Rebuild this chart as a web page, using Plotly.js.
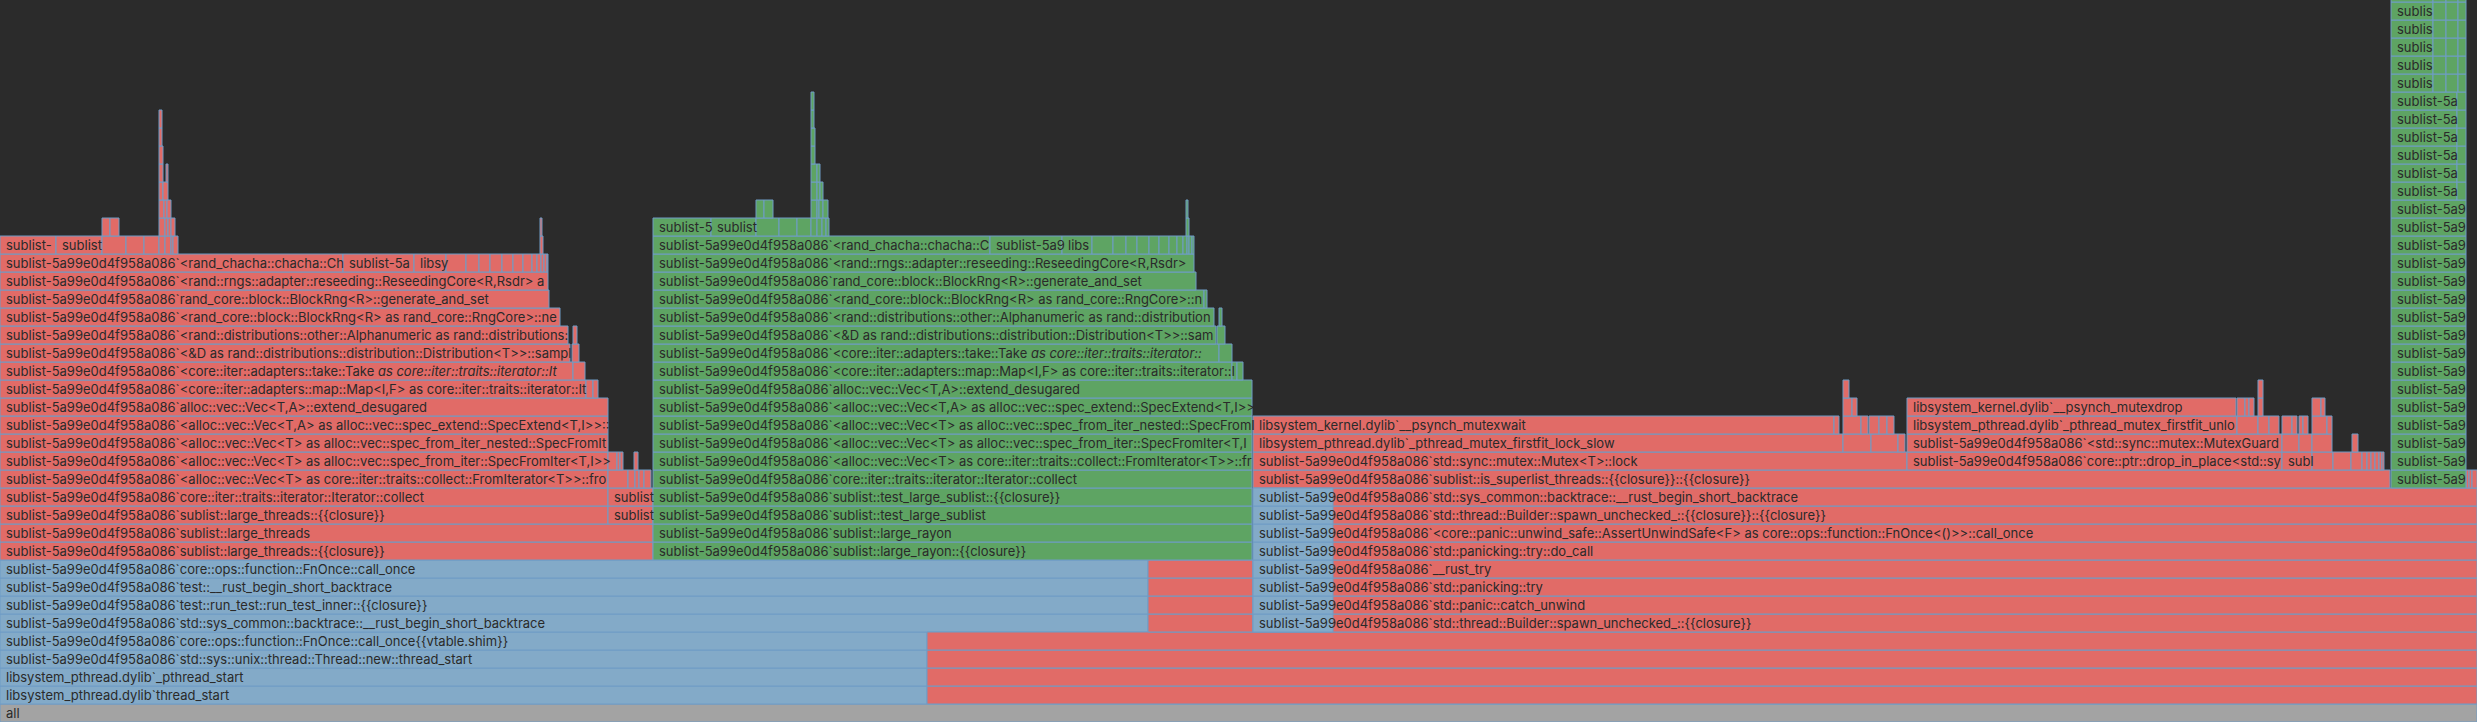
<!DOCTYPE html>
<html>
<head>
<meta charset="utf-8">
<script src="https://cdn.plot.ly/plotly-3.0.1.min.js"></script>
<style>html,body{margin:0;padding:0;background:#2b2b2b;overflow:hidden}</style>
</head>
<body>
<div id="chart" style="width:2477px;height:722px"></div>
<script>
// ---------- frame names ----------
const P = "sublist-5a99e0d4f958a086`";
const COLLECT = P + "core::iter::traits::iterator::Iterator::collect";
const FROM_ITER = P + "<alloc::vec::Vec<T> as core::iter::traits::collect::FromIterator<T>>::from_iter";
const SPEC_FROM_ITER = P + "<alloc::vec::Vec<T> as alloc::vec::spec_from_iter::SpecFromIter<T,I>>::from_iter";
const NESTED = P + "<alloc::vec::Vec<T> as alloc::vec::spec_from_iter_nested::SpecFromIterNested<T,I>>::from_iter";
const SPEC_EXTEND = P + "<alloc::vec::Vec<T,A> as alloc::vec::spec_extend::SpecExtend<T,I>>::spec_extend";
const EXTEND = P + "alloc::vec::Vec<T,A>::extend_desugared";
const MAP = P + "<core::iter::adapters::map::Map<I,F> as core::iter::traits::iterator::Iterator>::next";
const TAKE = P + "<core::iter::adapters::take::Take<I> as core::iter::traits::iterator::Iterator>::next";
const SAMPLE = P + "<&D as rand::distributions::distribution::Distribution<T>>::sample";
const ALNUM = P + "<rand::distributions::other::Alphanumeric as rand::distributions::distribution::Distribution<u8>>::sample";
const NEXT_U32 = P + "<rand_core::block::BlockRng<R> as rand_core::RngCore>::next_u32";
const GEN_SET = P + "rand_core::block::BlockRng<R>::generate_and_set";
const RESEED = P + "<rand::rngs::adapter::reseeding::ReseedingCore<R,Rsdr> as rand_core::block::BlockRngCore>::generate";
const CHACHA = P + "<rand_chacha::chacha::ChaCha12Core as rand_core::block::BlockRngCore>::generate";
const REFILL = P + "rand_chacha::guts::refill_wide";
const MEMMOVE = "libsystem_platform.dylib`_platform_memmove";
const REFILL_IMPL = P + "rand_chacha::guts::refill_wide::impl_avx2";
const REFILL_WIDE = P + "rand_chacha::guts::refill_wide_impl";

// ---------- frames: [level, start, end, label] ----------
const rootFrames = [[0, 0, 2477, "all"]];

const blueFrames = [
  [1, 0, 927, "libsystem_pthread.dylib`thread_start"],
  [2, 0, 927, "libsystem_pthread.dylib`_pthread_start"],
  [3, 0, 927, P + "std::sys::unix::thread::Thread::new::thread_start"],
  [4, 0, 927, P + "core::ops::function::FnOnce::call_once{{vtable.shim}}"],
  [5, 0, 1148, P + "std::sys_common::backtrace::__rust_begin_short_backtrace"],
  [6, 0, 1148, P + "test::run_test::run_test_inner::{{closure}}"],
  [7, 0, 1148, P + "test::__rust_begin_short_backtrace"],
  [8, 0, 1148, P + "core::ops::function::FnOnce::call_once"]
];

const redRightFrames = [
  [1, 927, 2477, ""], [2, 927, 2477, ""], [3, 927, 2477, ""], [4, 927, 2477, ""],
  [5, 1148, 1253, ""], [6, 1148, 1253, ""], [7, 1148, 1253, ""], [8, 1148, 1253, ""],
  [5, 1253, 2477, P + "std::thread::Builder::spawn_unchecked_::{{closure}}"],
  [6, 1253, 2477, P + "std::panic::catch_unwind"],
  [7, 1253, 2477, P + "std::panicking::try"],
  [8, 1253, 2477, P + "__rust_try"],
  [9, 1253, 2477, P + "std::panicking::try::do_call"],
  [10, 1253, 2477, P + "<core::panic::unwind_safe::AssertUnwindSafe<F> as core::ops::function::FnOnce<()>>::call_once"],
  [11, 1253, 2477, P + "std::thread::Builder::spawn_unchecked_::{{closure}}::{{closure}}"],
  [12, 1253, 2477, P + "std::sys_common::backtrace::__rust_begin_short_backtrace"],
  [13, 1253, 2390, P + "sublist::is_superlist_threads::{{closure}}::{{closure}}"],
  [13, 2466, 2469, ""], [13, 2469, 2472, ""], [13, 2472, 2477, ""],
  [14, 1253, 1907, P + "std::sync::mutex::Mutex<T>::lock"],
  [14, 1907, 2282, P + "core::ptr::drop_in_place<std::sync::mutex::MutexGuard<alloc::vec::Vec<i32>>>"],
  [14, 2282, 2312, P + "<alloc::vec::Vec<T,A> as core::ops::drop::Drop>::drop"],
  [14, 2312, 2333, ""], [14, 2333, 2351, ""], [14, 2351, 2362, ""], [14, 2362, 2367, ""],
  [14, 2367, 2371, ""], [14, 2371, 2375, ""], [14, 2375, 2379, ""], [14, 2379, 2382, ""], [14, 2382, 2384, ""],
  [15, 1253, 1843, "libsystem_pthread.dylib`_pthread_mutex_firstfit_lock_slow"],
  [15, 1843, 1871, ""], [15, 1871, 1898, ""], [15, 1898, 1905, ""],
  [15, 1907, 2282, P + "<std::sync::mutex::MutexGuard<T> as core::ops::drop::Drop>::drop"],
  [15, 2282, 2299, ""], [15, 2299, 2312, ""], [15, 2312, 2332, ""], [15, 2352, 2358, ""],
  [16, 1253, 1834, "libsystem_kernel.dylib`__psynch_mutexwait"],
  [16, 1834, 1839, ""], [16, 1843, 1861, ""], [16, 1861, 1868, ""], [16, 1869, 1879, ""],
  [16, 1879, 1887, ""], [16, 1887, 1894, ""],
  [16, 1907, 2237, "libsystem_pthread.dylib`_pthread_mutex_firstfit_unlock_slow"],
  [16, 2237, 2258, ""], [16, 2258, 2269, ""], [16, 2269, 2279, ""], [16, 2282, 2292, ""],
  [16, 2292, 2297, ""], [16, 2299, 2303, ""], [16, 2303, 2308, ""], [16, 2312, 2327, ""], [16, 2327, 2332, ""],
  [17, 1843, 1852, ""], [17, 1852, 1857, ""],
  [17, 1907, 2236, "libsystem_kernel.dylib`__psynch_mutexdrop"],
  [17, 2237, 2245, ""], [17, 2245, 2249, ""], [17, 2249, 2254, ""], [17, 2258, 2263, ""],
  [17, 2312, 2321, ""], [17, 2321, 2325, ""],
  [18, 1843, 1849, ""], [18, 2258, 2263, ""]
];

const redLeftFrames = [
  [9, 0, 653, P + "sublist::large_threads::{{closure}}"],
  [10, 0, 653, P + "sublist::large_threads"],
  [11, 0, 608, P + "sublist::large_threads::{{closure}}"],
  [11, 608, 653, P + "sublist::is_sublist_threads"],
  [12, 0, 608, COLLECT],
  [12, 608, 653, P + "sublist::is_sublist_threads::{{closure}}"],
  [13, 0, 608, FROM_ITER], [13, 608, 628, ""], [13, 628, 635, ""], [13, 635, 639, ""], [13, 639, 644, ""], [13, 644, 651, ""],
  [14, 0, 608, SPEC_FROM_ITER], [14, 608, 617, ""], [14, 617, 620, ""], [14, 620, 623, ""], [14, 634, 638, ""],
  [15, 0, 608, NESTED],
  [16, 0, 608, SPEC_EXTEND],
  [17, 0, 608, EXTEND],
  [18, 0, 586, MAP], [18, 586, 593, ""], [18, 593, 598, ""],
  [19, 0, 573, TAKE], [19, 573, 585, ""],
  [20, 0, 570, SAMPLE], [20, 572, 579, ""],
  [21, 0, 568, ALNUM], [21, 573, 577, ""],
  [22, 0, 560, NEXT_U32],
  [23, 0, 549, GEN_SET],
  [24, 0, 548, RESEED],
  [25, 0, 343, CHACHA], [25, 343, 414, REFILL], [25, 414, 446, MEMMOVE], [25, 446, 466, ""],
  [25, 466, 479, ""], [25, 479, 490, ""], [25, 490, 502, ""], [25, 502, 513, ""], [25, 513, 523, ""],
  [25, 523, 532, ""], [25, 532, 537, ""], [25, 537, 541, ""], [25, 541, 544, ""], [25, 544, 547, ""], [25, 547, 548, ""],
  [26, 0, 56, REFILL_IMPL], [26, 56, 102, REFILL_WIDE], [26, 102, 126, ""], [26, 126, 144, ""], [26, 144, 159, ""],
  [26, 159, 165, ""], [26, 165, 171, ""], [26, 171, 173, ""], [26, 173, 178, ""], [26, 540, 543, ""],
  [27, 102, 110, ""], [27, 110, 119, ""], [27, 159, 165, ""], [27, 165, 168, ""], [27, 168, 171, ""], [27, 171, 175, ""], [27, 540, 542, ""],
  [28, 159, 164, ""], [28, 164, 167, ""], [28, 167, 171, ""],
  [29, 159, 163, ""], [29, 163, 168, ""],
  [30, 159, 163, ""], [30, 166, 168, ""],
  [31, 159, 163, ""], [32, 159, 162, ""], [33, 159, 162, ""]
];

const greenFrames = [
  [9, 653, 1252, P + "sublist::large_rayon::{{closure}}"],
  [10, 653, 1252, P + "sublist::large_rayon"],
  [11, 653, 1252, P + "sublist::test_large_sublist"],
  [12, 653, 1252, P + "sublist::test_large_sublist::{{closure}}"],
  [13, 653, 1252, COLLECT],
  [14, 653, 1252, FROM_ITER],
  [15, 653, 1252, SPEC_FROM_ITER],
  [16, 653, 1252, NESTED],
  [17, 653, 1252, SPEC_EXTEND],
  [18, 653, 1252, EXTEND],
  [19, 653, 1232, MAP], [19, 1232, 1237, ""], [19, 1237, 1243, ""],
  [20, 653, 1219, TAKE], [20, 1219, 1232, ""],
  [21, 653, 1216, SAMPLE], [21, 1217, 1225, ""],
  [22, 653, 1214, ALNUM], [22, 1219, 1222, ""],
  [23, 653, 1204, NEXT_U32], [23, 1204, 1207, ""],
  [24, 653, 1196, GEN_SET],
  [25, 653, 1194, RESEED],
  [26, 653, 990, CHACHA], [26, 990, 1062, REFILL], [26, 1062, 1092, MEMMOVE],
  [26, 1092, 1113, ""], [26, 1113, 1126, ""], [26, 1126, 1137, ""], [26, 1137, 1149, ""], [26, 1149, 1159, ""],
  [26, 1159, 1169, ""], [26, 1169, 1177, ""], [26, 1177, 1183, ""], [26, 1183, 1187, ""], [26, 1187, 1189, ""],
  [26, 1189, 1192, ""], [26, 1192, 1194, ""],
  [27, 653, 711, REFILL_IMPL], [27, 711, 756, REFILL_WIDE], [27, 756, 779, ""], [27, 779, 797, ""], [27, 797, 811, ""],
  [27, 811, 817, ""], [27, 817, 822, ""], [27, 822, 826, ""], [27, 826, 829, ""], [27, 1186, 1189, ""],
  [28, 756, 764, ""], [28, 764, 773, ""], [28, 811, 817, ""], [28, 817, 819, ""], [28, 819, 823, ""], [28, 823, 828, ""], [28, 1186, 1188, ""],
  [29, 811, 817, ""], [29, 817, 820, ""], [29, 820, 823, ""],
  [30, 811, 817, ""], [30, 817, 820, ""],
  [31, 811, 815, ""], [32, 811, 815, ""], [33, 811, 814, ""], [34, 811, 814, ""]
];

const greenColumnFrames = [
  [13, 2391, 2466, P + "rayon_core::job::StackJob<L,F,R>::run_inline"],
  [14, 2391, 2466, P + "rayon::iter::plumbing::bridge_producer_consumer::helper"],
  [15, 2391, 2466, P + "rayon_core::join::join_context::{{closure}}"],
  [16, 2391, 2466, P + "rayon_core::registry::in_worker"],
  [17, 2391, 2466, P + "rayon_core::join::join_context"],
  [18, 2391, 2466, P + "rayon::iter::plumbing::bridge_producer_consumer::helper"],
  [19, 2391, 2466, P + "rayon_core::join::join_context::{{closure}}"],
  [20, 2391, 2466, P + "rayon_core::registry::in_worker"],
  [21, 2391, 2466, P + "rayon_core::join::join_context"],
  [22, 2391, 2466, P + "rayon::iter::plumbing::bridge_producer_consumer::helper"],
  [23, 2391, 2466, P + "rayon_core::join::join_context::{{closure}}"],
  [24, 2391, 2466, P + "rayon_core::registry::in_worker"],
  [25, 2391, 2466, P + "rayon_core::join::join_context"],
  [26, 2391, 2466, P + "rayon::iter::plumbing::bridge_producer_consumer::helper"],
  [27, 2391, 2466, P + "rayon_core::join::join_context::{{closure}}"],
  [28, 2391, 2466, P + "rayon_core::registry::in_worker"],
  [29, 2391, 2457, P + "rayon_core::join::join_context"], [29, 2457, 2466, ""],
  [30, 2391, 2457, P + "rayon::iter::plumbing::bridge_producer_consumer::helper"], [30, 2457, 2466, ""],
  [31, 2391, 2457, P + "rayon_core::join::join_context::{{closure}}"], [31, 2457, 2466, ""],
  [32, 2391, 2457, P + "rayon_core::registry::in_worker"], [32, 2457, 2466, ""],
  [33, 2391, 2457, P + "rayon_core::join::join_context"], [33, 2457, 2466, ""],
  [34, 2391, 2457, P + "rayon::iter::plumbing::bridge_producer_consumer::helper"], [34, 2457, 2466, ""],
  [35, 2391, 2433, P + "rayon_core::join::join_context::{{closure}}"], [35, 2433, 2446, ""], [35, 2446, 2458, ""], [35, 2458, 2466, ""],
  [36, 2391, 2433, P + "rayon_core::registry::in_worker"], [36, 2433, 2446, ""], [36, 2446, 2458, ""], [36, 2458, 2466, ""],
  [37, 2391, 2433, P + "rayon_core::join::join_context"], [37, 2433, 2446, ""], [37, 2446, 2458, ""], [37, 2458, 2466, ""],
  [38, 2391, 2433, P + "rayon::iter::plumbing::Producer::fold_with"], [38, 2433, 2446, ""], [38, 2446, 2458, ""], [38, 2458, 2466, ""],
  [39, 2391, 2433, P + "rayon::iter::plumbing::Folder::consume_iter"], [39, 2433, 2446, ""], [39, 2446, 2458, ""], [39, 2458, 2466, ""],
  [40, 2391, 2433, P + "core::iter::traits::iterator::Iterator::fold"], [40, 2433, 2446, ""], [40, 2446, 2458, ""], [40, 2458, 2466, ""]
];

// blue selection band drawn over the start of the spawned-thread frames
const highlightFrames = [
  [5, 1253, 1333, ""], [6, 1253, 1333, ""], [7, 1253, 1333, ""], [8, 1253, 1333, ""],
  [9, 1253, 1333, ""], [10, 1253, 1333, ""], [11, 1253, 1333, ""], [12, 1253, 1333, ""]
];

// ---------- styles ----------
const COLORS = {
  root: "#a3a3a3", blue: "#83aac8", red: "#e16b67", green: "#5ea463",
  outline: "#6f9cc6", bg: "#2b2b2b", text: "#2a2a2a"
};
const FONT_FAMILY = "Inter";
const FONT_SIZE = 13;
const TEXT_OFFSET = 3; // plus Plotly's 3px inner padding

const groups = [
  [rootFrames, COLORS.root],
  [blueFrames, COLORS.blue],
  [redRightFrames, COLORS.red],
  [redLeftFrames, COLORS.red],
  [greenFrames, COLORS.green],
  [greenColumnFrames, COLORS.green],
  [highlightFrames, COLORS.blue]
];

const ys = [], xs = [], bases = [], cols = [];
const ly = [], lx = [], lbase = [], ltext = [];

const ctx = document.createElement("canvas").getContext("2d");
ctx.font = FONT_SIZE + "px " + FONT_FAMILY;
function fit(label, avail) {
  if (avail <= 0) return "";
  if (ctx.measureText(label).width <= avail) return label;
  let lo = 0, hi = label.length;
  while (lo < hi) {
    const mid = Math.ceil((lo + hi) / 2);
    if (ctx.measureText(label.slice(0, mid)).width <= avail) lo = mid; else hi = mid - 1;
  }
  return label.slice(0, lo);
}

groups.forEach(([frames, color]) => {
  frames.forEach(([lvl, x0, x1, name]) => {
    ys.push(lvl); bases.push(x0); xs.push(x1 - x0); cols.push(color);
    if (name) {
      // the reference clips the last glyph at the frame edge, so allow a small overhang
      const t = fit(name, (x1 - x0) - 2 * TEXT_OFFSET + 3);
      if (t) {
        ly.push(lvl); lbase.push(x0 + TEXT_OFFSET); lx.push(x1 - x0 - TEXT_OFFSET); ltext.push(t);
      }
    }
  });
});

const frameTrace = {
  type: "bar", orientation: "h",
  y: ys, x: xs, base: bases, width: 1,
  marker: { color: cols, line: { color: COLORS.outline, width: 1 } },
  hoverinfo: "skip", showlegend: false
};

const labelTrace = {
  type: "bar", orientation: "h",
  y: ly, x: lx, base: lbase, width: 1,
  marker: { color: "rgba(0,0,0,0)", line: { width: 0 } },
  text: ltext, textposition: "inside", insidetextanchor: "start",
  textangle: 0, constraintext: "none", cliponaxis: false,
  textfont: { family: FONT_FAMILY, size: FONT_SIZE, color: COLORS.text },
  hoverinfo: "skip", showlegend: false
};

const ROW_PX = 18, H = 722, W = 2477;
const layout = {
  width: W, height: H,
  margin: { l: 0, r: 0, t: 0, b: 0, pad: 0 },
  paper_bgcolor: COLORS.bg, plot_bgcolor: COLORS.bg,
  barmode: "overlay", bargap: 0,
  xaxis: { range: [0, W], visible: false, fixedrange: true },
  yaxis: { range: [-0.5, -0.5 + H / ROW_PX], visible: false, fixedrange: true },
  showlegend: false
};

Plotly.newPlot("chart", [frameTrace, labelTrace], layout, { staticPlot: true, displayModeBar: false });
</script>
</body>
</html>
